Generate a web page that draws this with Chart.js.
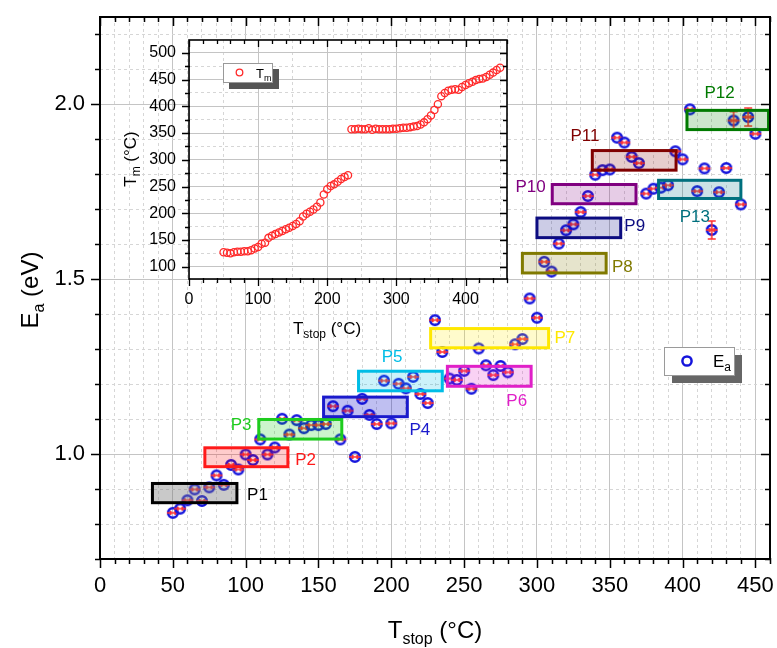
<!DOCTYPE html>
<html>
<head>
<meta charset="utf-8">
<script src="https://cdn.jsdelivr.net/npm/chart.js@4/dist/chart.umd.min.js"></script>
<style>
  body { margin: 0; background: #fff; }
  #wrap { position: relative; width: 777px; height: 648px; }
  canvas { position: absolute; left: 0; top: 0; }
  #insetChart { pointer-events: none; }
</style>
</head>
<body>
<div id="wrap">
  <canvas id="mainChart" width="777" height="648"></canvas>
  <canvas id="insetChart" width="777" height="648"></canvas>
</div>
<script>
// stop temperatures (°C), shared by both plots
const tStop = [50, 55, 60, 65, 70, 75, 80, 85, 90, 95, 100, 105, 110, 115, 120, 125, 130, 135, 140, 145,
  150, 155, 160, 165, 170, 175, 180, 185, 190, 195, 200, 205, 210, 215, 220, 225, 230, 235, 240, 245,
  250, 255, 260, 265, 270, 275, 280, 285, 290, 295, 300, 305, 310, 315, 320, 325, 330, 335, 340, 345,
  350, 355, 360, 365, 370, 375, 380, 385, 390, 395, 400, 405, 410, 415, 420, 425, 430, 435, 440, 445, 450];

// activation energy (eV)
const eaValues = [0.832, 0.844, 0.868, 0.899, 0.866, 0.905, 0.939, 0.912, 0.969, 0.956, 0.999, 0.983, 1.042, 0.999, 1.019, 1.101, 1.056, 1.097, 1.074, 1.083,
  1.083, 1.086, 1.137, 1.042, 1.124, 0.992, 1.158, 1.112, 1.086, 1.210, 1.088, 1.201, 1.188, 1.221, 1.172, 1.146, 1.383, 1.292, 1.216, 1.212,
  1.238, 1.187, 1.302, 1.254, 1.226, 1.252, 1.234, 1.314, 1.329, 1.445, 1.390, 1.550, 1.522, 1.602, 1.640, 1.657, 1.692, 1.738, 1.799, 1.812,
  1.814, 1.905, 1.891, 1.850, 1.832, 1.745, 1.759, 1.762, 1.769, 1.866, 1.843, 1.986, 1.752, 1.817, 1.641, 1.749, 1.818, 1.954, 1.714, 1.964, 1.916];

// points whose vertical error bar sticks out of the marker
const eaBigErrorAt = [420, 435, 445];

// peak temperature Tm (°C) for the inset
const tmValues = [127, 126, 125, 127, 128, 128, 129, 129, 131, 134, 137, 143, 145, 154, 158, 161, 164, 167, 170, 173,
  176, 180, 185, 194, 199, 203, 207, 212, 220, 235, 245, 251, 254, 259, 264, 268, 271, 357, 357, 358,
  357, 357, 359, 356, 358, 357, 357, 357, 357, 358, 358, 359, 360, 360, 361, 362, 363, 366, 370, 376,
  383, 393, 404, 419, 425, 429, 431, 432, 431, 436, 440, 443, 446, 449, 451, 452, 455, 459, 463, 468, 472];

// peak regions P1..P13: T range and Ea range
const peakNames = ['P1', 'P2', 'P3', 'P4', 'P5', 'P6', 'P7', 'P8', 'P9', 'P10', 'P11', 'P12', 'P13'];
const peakT0 = [36, 72, 109, 153.5, 177.5, 238.5, 227, 290, 300, 310.5, 338, 403, 383.5];
const peakT1 = [94, 129, 166, 211, 235, 296, 308, 347.5, 357.5, 368, 395.5, 459, 440];
const peakE0 = [0.861, 0.964, 1.043, 1.107, 1.181, 1.194, 1.304, 1.518, 1.619, 1.716, 1.812, 1.928, 1.731];
const peakE1 = [0.916, 1.018, 1.099, 1.163, 1.237, 1.251, 1.359, 1.574, 1.675, 1.771, 1.868, 1.983, 1.783];

// tick labels
const xTickLabels = [0, 50, 100, 150, 200, 250, 300, 350, 400, 450];
const yTickLabels = [1.0, 1.5, 2.0];
const insetXTickLabels = [0, 100, 200, 300, 400];
const insetYTickLabels = [100, 150, 200, 250, 300, 350, 400, 450, 500];

// label placement and colours for the peak boxes
const peakLabelPos = [[101, 0.881, 'left'], [134, 0.983, 'left'], [104, 1.082, 'right'], [212.5, 1.067, 'left'],
  [200.5, 1.278, 'center'], [279, 1.152, 'left'], [312, 1.331, 'left'], [351.5, 1.535, 'left'], [360, 1.650, 'left'],
  [306, 1.762, 'right'], [323, 1.909, 'left'], [415, 2.031, 'left'], [398, 1.678, 'left']];
const peakColors = ['#000000', '#ff1a1a', '#1ecc1e', '#1a1acc', '#00bde6', '#e020c8', '#ffe800', '#807a00',
  '#0c0c80', '#800080', '#800000', '#007a00', '#00707e'];
const peakFills = ['rgba(120,120,120,0.4)', 'rgba(255,0,0,0.2)', 'rgba(0,200,0,0.2)', 'rgba(0,0,200,0.25)',
  'rgba(0,190,230,0.2)', 'rgba(224,32,200,0.2)', 'rgba(255,235,0,0.2)', 'rgba(128,120,0,0.2)', 'rgba(0,0,128,0.2)',
  'rgba(128,0,128,0.2)', 'rgba(128,0,0,0.2)', 'rgba(0,128,0,0.2)', 'rgba(0,112,128,0.2)'];

const FONT = "'Liberation Sans', Arial, sans-serif";
const BLUE = '#1414dc';
const RED = '#ff3030';

const isMult = (v, step) => Math.abs(v / step - Math.round(v / step)) < 1e-6;

// marker: blue open circle with the red error bar
function makeMarker(vertical) {
  const c = document.createElement('canvas');
  c.width = 16;
  c.height = vertical ? 24 : 16;
  const g = c.getContext('2d');
  const cx = c.width / 2, cy = c.height / 2;
  g.strokeStyle = BLUE;
  g.lineWidth = 2.6;
  g.beginPath();
  g.arc(cx, cy, 4.8, 0, Math.PI * 2);
  g.stroke();
  g.strokeStyle = RED;
  g.lineWidth = 1.6;
  g.beginPath();
  g.moveTo(cx - 6, cy); g.lineTo(cx + 6, cy);
  g.moveTo(cx - 2.2, cy - 2); g.lineTo(cx - 2.2, cy + 2);
  g.moveTo(cx + 2.2, cy - 2); g.lineTo(cx + 2.2, cy + 2);
  if (vertical) {
    g.moveTo(cx, cy - 9); g.lineTo(cx, cy + 9);
    g.moveTo(cx - 4, cy - 9); g.lineTo(cx + 4, cy - 9);
    g.moveTo(cx - 4, cy + 9); g.lineTo(cx + 4, cy + 9);
  }
  g.stroke();
  return c;
}
const markerPlain = makeMarker(false);
const markerBar = makeMarker(true);

// text with a subscript part, parts = [text, size, dy]
function drawParts(ctx, parts, x, y, align) {
  let total = 0;
  parts.forEach(p => { ctx.font = p[1] + 'px ' + FONT; total += ctx.measureText(p[0]).width; });
  let cx = align === 'center' ? x - total / 2 : (align === 'right' ? x - total : x);
  ctx.textAlign = 'left';
  ctx.textBaseline = 'alphabetic';
  parts.forEach(p => {
    ctx.font = p[1] + 'px ' + FONT;
    ctx.fillText(p[0], cx, y + p[2]);
    cx += ctx.measureText(p[0]).width;
  });
}

// tick marks on all four sides plus the frame
function frameTicks(o) {
  return {
    id: 'frameTicks',
    afterDraw(chart) {
      const { ctx, chartArea: a, scales: { x, y } } = chart;
      ctx.save();
      ctx.strokeStyle = '#000';
      ctx.lineWidth = o.tickWidth;
      ctx.beginPath();
      for (let v = x.min; v <= x.max + 1e-9; v += o.xMinor) {
        if (!isMult(v, o.xMinor)) continue;
        const px = Math.round(x.getPixelForValue(v)) + 0.5;
        const len = isMult(v, o.xMajor) ? o.major : o.minor;
        ctx.moveTo(px, a.bottom - 1); ctx.lineTo(px, a.bottom + len);
        ctx.moveTo(px, a.top); ctx.lineTo(px, a.top + len);
      }
      const y0 = Math.ceil(y.min / o.yMinor - 1e-9);
      for (let k = y0; k * o.yMinor <= y.max + 1e-9; k++) {
        const v = k * o.yMinor;
        const py = Math.round(y.getPixelForValue(v)) + 0.5;
        const len = isMult(v, o.yMajor) ? o.major : o.minor;
        ctx.moveTo(a.left + 1, py); ctx.lineTo(a.left - len, py);
        ctx.moveTo(a.right, py); ctx.lineTo(a.right - len, py);
      }
      ctx.stroke();
      ctx.lineWidth = o.frameWidth;
      ctx.strokeRect(a.left, a.top, a.right - a.left, a.bottom - a.top);
      ctx.restore();
    }
  };
}

// fixed axis box size, no extra room for half labels
function fixAxis(w, h) {
  return s => {
    if (w) s.width = w;
    if (h) s.height = h;
    s.paddingTop = 0; s.paddingBottom = 0; s.paddingLeft = 0; s.paddingRight = 0;
  };
}

function gridOpts(step) {
  return {
    drawTicks: false,
    lineWidth: 1,
    color: c => (c.tick && isMult(c.tick.value, step)) ? '#c4c4c4' : '#d6d6d6'
  };
}
function borderOpts(step) {
  return {
    display: false,
    dash: c => (c.tick && !isMult(c.tick.value, step)) ? [3, 3] : []
  };
}

// peak boxes and their labels, drawn over the points
const peakBoxes = {
  id: 'peakBoxes',
  afterDatasetsDraw(chart) {
    const { ctx, scales: { x, y } } = chart;
    ctx.save();
    peakNames.forEach((name, i) => {
      const x0 = x.getPixelForValue(peakT0[i]), x1 = x.getPixelForValue(peakT1[i]);
      const y0 = y.getPixelForValue(peakE1[i]), y1 = y.getPixelForValue(peakE0[i]);
      ctx.fillStyle = peakFills[i];
      ctx.fillRect(x0, y0, x1 - x0, y1 - y0);
      ctx.strokeStyle = peakColors[i];
      ctx.lineWidth = 3;
      ctx.strokeRect(x0, y0, x1 - x0, y1 - y0);
      const lp = peakLabelPos[i];
      ctx.fillStyle = peakColors[i];
      ctx.font = '17px ' + FONT;
      ctx.textAlign = lp[2];
      ctx.textBaseline = 'middle';
      ctx.fillText(name, x.getPixelForValue(lp[0]), y.getPixelForValue(lp[1]));
    });
    ctx.restore();
  }
};

const mainDecor = {
  id: 'mainDecor',
  afterDraw(chart) {
    const ctx = chart.ctx;
    ctx.save();
    // legend with shadow
    ctx.fillStyle = '#666';
    ctx.fillRect(672, 355, 70, 28);
    ctx.fillStyle = '#fff';
    ctx.fillRect(664, 347, 70, 28);
    ctx.strokeStyle = '#9a9a9a';
    ctx.lineWidth = 1;
    ctx.strokeRect(664.5, 347.5, 70, 28);
    ctx.strokeStyle = BLUE;
    ctx.lineWidth = 2.5;
    ctx.beginPath();
    ctx.arc(687, 361, 4.6, 0, Math.PI * 2);
    ctx.stroke();
    ctx.fillStyle = '#000';
    drawParts(ctx, [['E', 17, 0], ['a', 12, 4]], 713, 367, 'left');
    // axis titles
    drawParts(ctx, [['T', 24, 0], ['stop', 16, 6], [' (°C)', 24, 0]], 435, 638, 'center');
    ctx.translate(38, 290);
    ctx.rotate(-Math.PI / 2);
    drawParts(ctx, [['E', 24, 0], ['a', 16, 6], [' (eV)', 24, 0]], 0, 0, 'center');
    ctx.restore();
  }
};

new Chart(document.getElementById('mainChart'), {
  type: 'scatter',
  data: {
    datasets: [{
      label: 'Ea',
      data: tStop.map((t, i) => ({ x: t, y: eaValues[i] })),
      pointStyle: c => eaBigErrorAt.includes(tStop[c.dataIndex]) ? markerBar : markerPlain,
      pointRadius: 6
    }]
  },
  options: {
    responsive: false,
    animation: false,
    events: [],
    layout: { padding: { left: 0, top: 17, right: 6, bottom: 0 } },
    plugins: { legend: { display: false }, tooltip: { enabled: false } },
    scales: {
      x: {
        type: 'linear', min: 0, max: 460,
        afterFit: fixAxis(0, 89),
        ticks: {
          stepSize: 10, autoSkip: false, maxRotation: 0, padding: 14, color: '#000',
          font: { family: FONT, size: 22 },
          callback: v => xTickLabels.some(l => Math.abs(l - v) < 1e-6) ? String(v) : ''
        },
        grid: gridOpts(50),
        border: borderOpts(50)
      },
      y: {
        type: 'linear', min: 0.7, max: 2.25,
        afterFit: fixAxis(100, 0),
        ticks: {
          stepSize: 0.1, autoSkip: false, includeBounds: false, padding: 15, color: '#000',
          font: { family: FONT, size: 22 },
          callback: v => yTickLabels.some(l => Math.abs(l - v) < 1e-6) ? v.toFixed(1) : ''
        },
        grid: gridOpts(0.5),
        border: borderOpts(0.5)
      }
    }
  },
  plugins: [peakBoxes, mainDecor, frameTicks({ xMinor: 10, xMajor: 50, yMinor: 0.1, yMajor: 0.5, major: 9, minor: 5, tickWidth: 1.5, frameWidth: 2 })]
});

// inset: white plot area, its own legend and titles
const insetDecor = {
  id: 'insetDecor',
  beforeDraw(chart) {
    const { ctx, chartArea: a } = chart;
    ctx.save();
    ctx.fillStyle = '#fff';
    ctx.fillRect(a.left, a.top, a.right - a.left, a.bottom - a.top);
    ctx.restore();
  },
  afterDraw(chart) {
    const ctx = chart.ctx;
    ctx.save();
    ctx.fillStyle = '#555';
    ctx.fillRect(229, 69, 50, 20);
    ctx.fillStyle = '#fff';
    ctx.fillRect(223, 63, 50, 20);
    ctx.strokeStyle = '#999';
    ctx.lineWidth = 1;
    ctx.strokeRect(223.5, 63.5, 49, 19);
    ctx.strokeStyle = '#ff2a2a';
    ctx.lineWidth = 1.3;
    ctx.beginPath();
    ctx.arc(239.5, 72.5, 3.3, 0, Math.PI * 2);
    ctx.stroke();
    ctx.fillStyle = '#000';
    drawParts(ctx, [['T', 13, 0], ['m', 9, 3]], 256, 77.5, 'left');
    drawParts(ctx, [['T', 17, 0], ['stop', 12, 4], [' (°C)', 17, 0]], 327, 334, 'center');
    ctx.translate(136, 159);
    ctx.rotate(-Math.PI / 2);
    drawParts(ctx, [['T', 17, 0], ['m', 12, 4], [' (°C)', 17, 0]], 0, 0, 'center');
    ctx.restore();
  }
};

new Chart(document.getElementById('insetChart'), {
  type: 'scatter',
  data: {
    datasets: [{
      label: 'Tm',
      data: tStop.map((t, i) => ({ x: t, y: tmValues[i] })),
      pointStyle: 'circle',
      pointRadius: 3.6,
      borderColor: '#ff2a2a',
      borderWidth: 1.3,
      backgroundColor: 'rgba(0,0,0,0)'
    }]
  },
  options: {
    responsive: false,
    animation: false,
    events: [],
    layout: { padding: { left: 129, top: 40, right: 270, bottom: 309 } },
    plugins: { legend: { display: false }, tooltip: { enabled: false } },
    scales: {
      x: {
        type: 'linear', min: 0, max: 460,
        afterFit: fixAxis(0, 60),
        ticks: {
          stepSize: 10, autoSkip: false, maxRotation: 0, padding: 11, color: '#000',
          font: { family: FONT, size: 16 },
          callback: v => insetXTickLabels.some(l => Math.abs(l - v) < 1e-6) ? String(v) : ''
        },
        grid: {
          drawTicks: false, lineWidth: 1,
          color: c => !c.tick ? 'rgba(0,0,0,0)' : isMult(c.tick.value, 100) ? '#c4c4c4' : (isMult(c.tick.value, 50) ? '#d6d6d6' : 'rgba(0,0,0,0)')
        },
        border: borderOpts(100)
      },
      y: {
        type: 'linear', min: 77, max: 524,
        afterFit: fixAxis(60, 0),
        ticks: {
          stepSize: 25, autoSkip: false, includeBounds: false, padding: 13, color: '#000',
          font: { family: FONT, size: 16 },
          callback: v => insetYTickLabels.some(l => Math.abs(l - v) < 1e-6) ? String(v) : ''
        },
        grid: gridOpts(50),
        border: borderOpts(50)
      }
    }
  },
  plugins: [insetDecor, frameTicks({ xMinor: 20, xMajor: 100, yMinor: 25, yMajor: 50, major: 7, minor: 4, tickWidth: 1.3, frameWidth: 1.6 })]
});
</script>
</body>
</html>
